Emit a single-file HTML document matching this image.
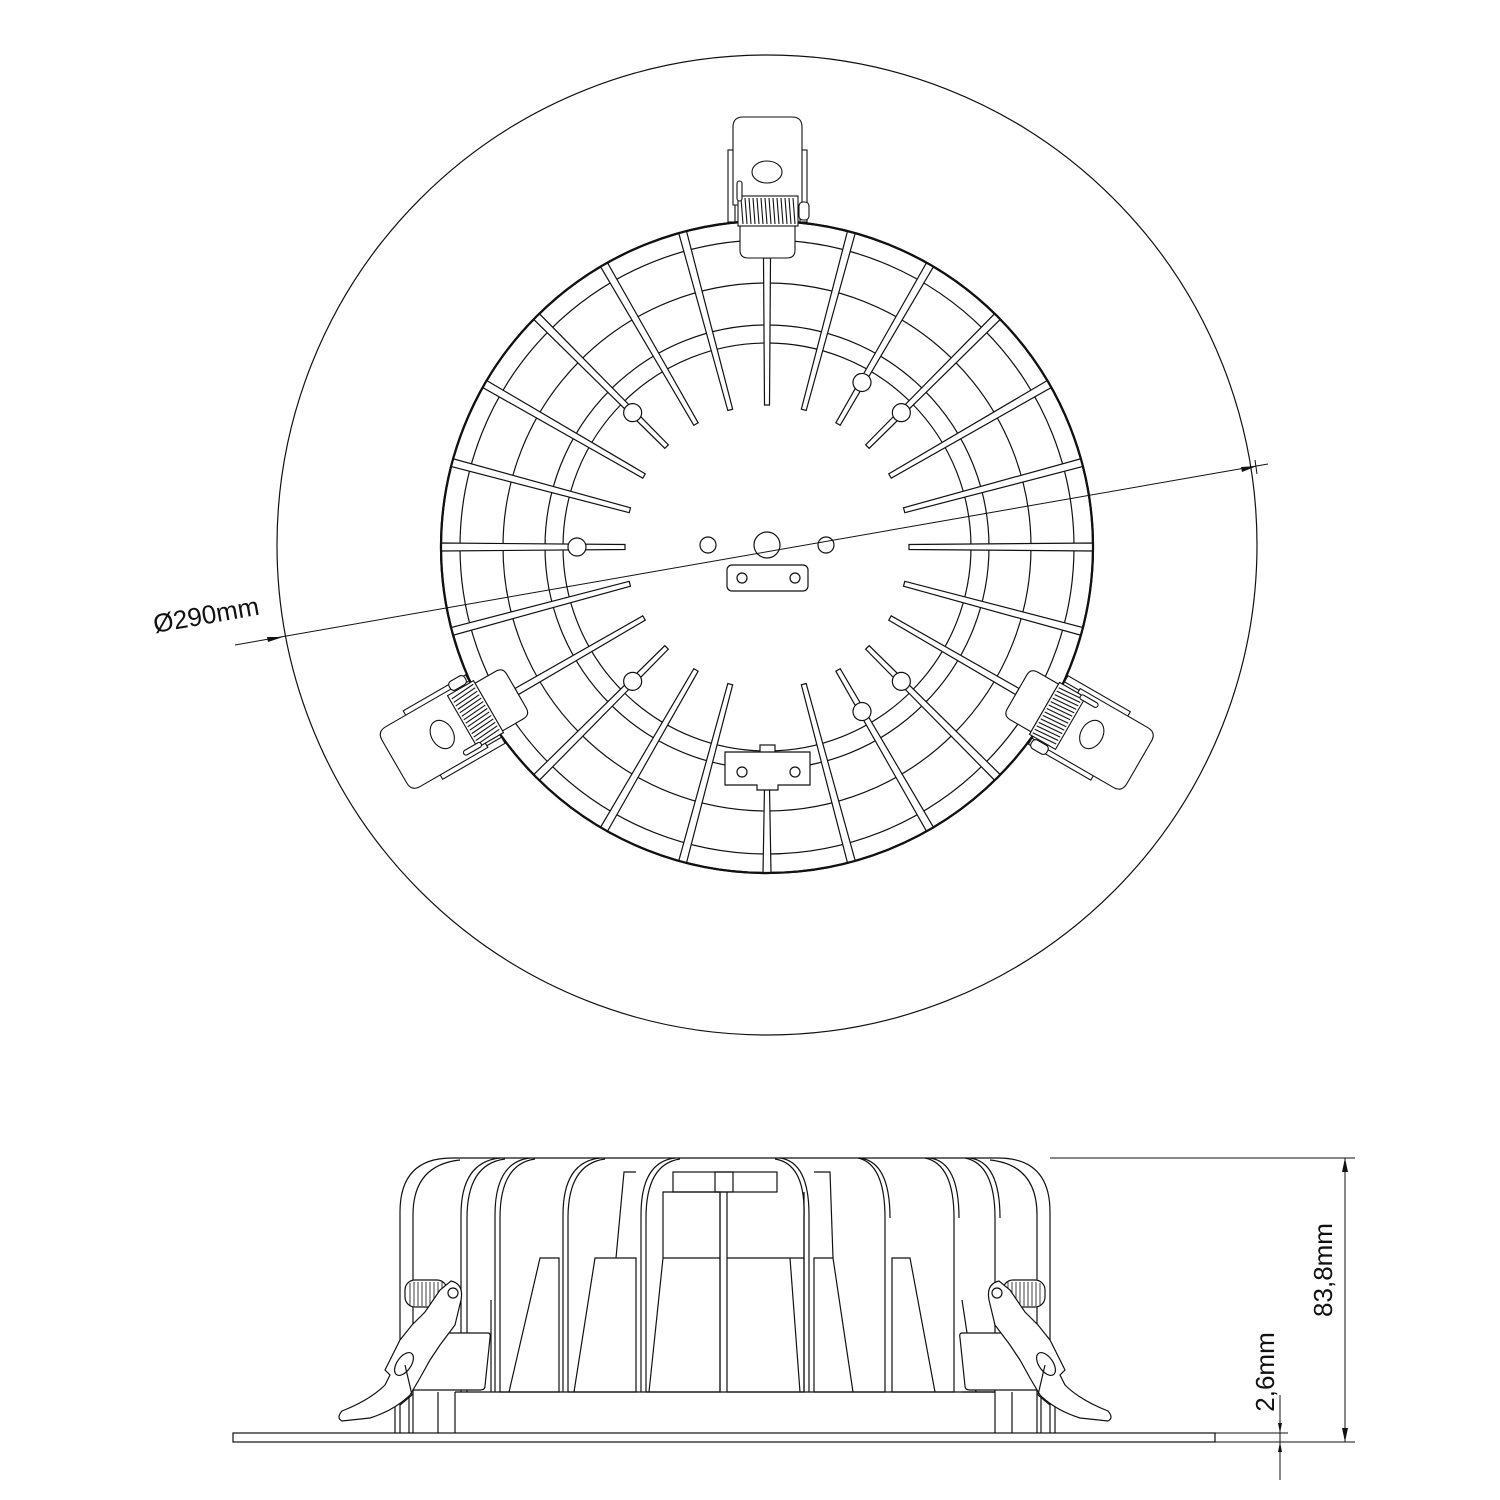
<!DOCTYPE html>
<html><head><meta charset="utf-8"><style>
html,body{margin:0;padding:0;background:#fff;}
svg{display:block;}
text{font-family:"Liberation Sans",sans-serif;fill:#111;}
</style></head><body>
<svg width="1500" height="1500" viewBox="0 0 1500 1500" xmlns="http://www.w3.org/2000/svg" stroke="#111" fill="none" stroke-width="1.2">
<defs>
  <polygon id="fin" points="764.5,405 769.5,405 771,221 763,221" fill="#fff"/>
  <polygon id="finS" points="764.5,405 769.5,405 770.5,258 763.5,258" fill="#fff"/>
  <g id="finH"><use href="#fin"/><circle cx="767" cy="357" r="9" fill="#fff"/></g>
  <g id="clip" stroke-width="1.1">
    <rect x="728" y="150" width="7" height="72" fill="#fff"/>
    <rect x="800" y="150" width="7" height="72" fill="#fff"/>
    <path d="M733,205 V127 Q733,117 743,117 H792 Q802,117 802,127 V205 Z" fill="#fff"/>
    <ellipse cx="767" cy="172" rx="15" ry="11"/>
    <path d="M740,226 H795 V250 Q795,258 787,258 H748 Q740,258 740,250 Z" fill="#fff"/>
    <rect x="738" y="196" width="60" height="30" fill="#fff"/>
    <path d="M741,198 l2,26 M745,198 l2,26 M749,198 l2,26 M753,198 l2,26 M757,198 l2,26 M761,198 l2,26 M765,198 l2,26 M769,198 l2,26 M773,198 l2,26 M777,198 l2,26 M781,198 l2,26 M785,198 l2,26 M789,198 l2,26 M793,198 l2,26"/>
    <rect x="799" y="202" width="10" height="18" rx="4" fill="#fff"/>
    <rect x="737" y="181" width="5" height="20" rx="2.5" fill="#fff"/>
  </g>
</defs>

<circle cx="767" cy="545" r="490"/>

<circle cx="767" cy="547" r="326" fill="#fff" stroke-width="2.2"/>
<circle cx="767" cy="547" r="307"/>
<circle cx="767" cy="547" r="264"/>
<circle cx="767" cy="547" r="222"/>
<circle cx="767" cy="547" r="204"/>
<circle cx="767" cy="547" r="140" fill="#fff" stroke="none"/>

<use href="#finS"/>
<use href="#fin" transform="rotate(15,767,547)"/>
<use href="#finH" transform="rotate(30,767,547)"/>
<use href="#finH" transform="rotate(45,767,547)"/>
<use href="#fin" transform="rotate(60,767,547)"/>
<use href="#fin" transform="rotate(75,767,547)"/>
<use href="#fin" transform="rotate(90,767,547)"/>
<use href="#fin" transform="rotate(105,767,547)"/>
<use href="#finS" transform="rotate(120,767,547)"/>
<use href="#finH" transform="rotate(135,767,547)"/>
<use href="#finH" transform="rotate(150,767,547)"/>
<use href="#fin" transform="rotate(165,767,547)"/>
<polygon points="764.5,787 769.5,787 771,873 763,873" fill="#fff"/>
<use href="#fin" transform="rotate(195,767,547)"/>
<use href="#fin" transform="rotate(210,767,547)"/>
<use href="#finH" transform="rotate(225,767,547)"/>
<use href="#finS" transform="rotate(240,767,547)"/>
<use href="#fin" transform="rotate(255,767,547)"/>
<use href="#finH" transform="rotate(270,767,547)"/>
<use href="#fin" transform="rotate(285,767,547)"/>
<use href="#fin" transform="rotate(300,767,547)"/>
<use href="#finH" transform="rotate(315,767,547)"/>
<use href="#fin" transform="rotate(330,767,547)"/>
<use href="#fin" transform="rotate(345,767,547)"/>
<circle cx="767" cy="547" r="326" stroke-width="2.2"/>

<rect x="760" y="745" width="15" height="8" fill="#fff"/>
<path d="M725,752 H810 V785 H778 V790 H757 V785 H725 Z" fill="#fff"/>
<circle cx="742" cy="772" r="5"/>
<circle cx="795" cy="772" r="5"/>

<circle cx="767" cy="545" r="13"/>
<circle cx="708" cy="545" r="8"/>
<circle cx="826" cy="545" r="8"/>
<rect x="727" y="565" width="81" height="26" rx="5"/>
<circle cx="742" cy="578" r="5"/>
<circle cx="795" cy="578" r="5"/>

<use href="#clip"/>
<use href="#clip" transform="rotate(120,767,547)"/>
<use href="#clip" transform="rotate(240,767,547)"/>

<line x1="235" y1="645" x2="1268" y2="464" stroke-width="1"/>
<line x1="1255" y1="460" x2="1257" y2="474" stroke-width="1"/>
<polygon points="283,637 268,642 267,637" fill="#111" stroke="none"/>
<polygon points="1257,466 1242,472 1241,467" fill="#111" stroke="none"/>
<text x="0" y="0" font-size="26" stroke="none" transform="translate(155,633) rotate(-10)">Ø290mm</text>

<!-- SIDE VIEW -->
<rect x="233" y="1433" width="982" height="9" fill="#fff"/>
<path d="M400,1433 V1212 Q400,1158 452,1158 H998 Q1050,1158 1050,1212 V1433" />
<path d="M413,1433 V1215 Q413,1165 460,1160"/>
<path d="M1037,1433 V1215 Q1037,1165 990,1160"/>
<path d="M461,1392 V1215 Q461,1162 500,1158"/><path d="M467,1392 V1218 Q467,1164 505,1159"/>
<line x1="491" y1="1392" x2="491" y2="1300"/>
<path d="M495,1392 V1215 Q495,1162 530,1158"/><path d="M500,1392 V1218 Q500,1164 535,1159"/>
<path d="M500,1392 H559 V1258 H540 L509,1392"/>
<path d="M563,1392 V1215 Q563,1162 600,1158"/><path d="M568,1392 V1218 Q568,1164 605,1159"/>
<path d="M568,1392 H636 V1258 H595 L574,1392 M616,1258 L624,1172 H636"/>
<path d="M641,1392 V1215 Q641,1162 675,1158"/><path d="M646,1392 V1218 Q646,1164 680,1159"/>
<path d="M646,1392 H720 V1192 H663 V1258 L649,1392 M663,1258 H720"/>
<rect x="673" y="1172" width="104" height="20"/>
<rect x="715" y="1172" width="18" height="20"/>
<line x1="720" y1="1192" x2="720" y2="1392"/><line x1="727" y1="1192" x2="727" y2="1392"/>
<path d="M727,1392 H804 V1192 M727,1258 H804 M790,1258 L800,1392"/>
<path d="M809,1392 V1215 Q809,1162 780,1158"/><path d="M804,1392 V1218 Q806,1164 775,1159"/>
<path d="M814,1392 H885 V1218 Q885,1164 858,1158 M814,1392 V1258 H833 L830,1172 H814 M833,1258 L853,1392"/>
<path d="M890,1218 Q890,1162 860,1158"/>
<path d="M892,1392 H954 V1218 Q954,1164 925,1158 M892,1392 V1258 H910 L935,1392"/>
<path d="M959,1218 Q959,1162 930,1158"/>
<path d="M962,1392 H995 V1218 Q995,1164 965,1158 M962,1300 L976,1392"/>
<path d="M1000,1218 Q1000,1162 970,1158"/>
<path d="M395,1433 V1395 M409,1433 V1395 M438,1433 V1392 M455,1433 V1392 M1055,1433 V1395 M1041,1433 V1395 M1012,1433 V1392 M995,1433 V1392"/>
<line x1="455" y1="1392" x2="995" y2="1392"/>

<g id="sclip" fill="#fff">
  <path d="M409,1333 H488 Q491,1333 490,1338 L485,1386 Q485,1390 480,1390 H409 Z"/>
  <rect x="405" y="1280" width="42" height="27" rx="10"/>
  <path d="M410,1283 v22 M414,1282 v24 M418,1282 v24 M422,1282 v24 M426,1282 v24 M430,1282 v24 M434,1282 v24 M438,1282 v24 M442,1282 v24" stroke-width="0.8"/>
  <path d="M451,1281 Q464,1284 461,1300 L455,1325 L440,1345 L430,1360 L420,1378 L410,1395 Q395,1410 370,1418 L342,1421 Q336,1418 342,1411 Q370,1400 385,1385 L390,1375 L385,1370 L400,1340 L412,1325 L425,1312 L440,1290 Z"/>
  <circle cx="453" cy="1293" r="5"/>
  <ellipse cx="404" cy="1364" rx="7" ry="13" transform="rotate(35,404,1364)"/>
  <path d="M412,1395 L400,1405 M405,1365 L412,1395"/>
</g>
<use href="#sclip" transform="translate(1450,0) scale(-1,1)"/>

<line x1="1050" y1="1158" x2="1355" y2="1158" stroke-width="1"/>
<line x1="980" y1="1442" x2="1355" y2="1442" stroke-width="1"/>
<line x1="1215" y1="1433" x2="1288" y2="1433" stroke-width="1"/>
<line x1="1345" y1="1158" x2="1345" y2="1442" stroke-width="1"/>
<polygon points="1345,1158 1342,1172 1348,1172" fill="#111" stroke="none"/>
<polygon points="1345,1442 1342,1428 1348,1428" fill="#111" stroke="none"/>
<line x1="1280" y1="1395" x2="1280" y2="1480" stroke-width="1"/>
<polygon points="1280,1433 1278,1423 1282,1423" fill="#111" stroke="none"/>
<polygon points="1280,1442 1278,1452 1282,1452" fill="#111" stroke="none"/>
<text font-size="26" stroke="none" text-anchor="middle" transform="translate(1332,1270) rotate(-90)">83,8mm</text>
<text font-size="26" stroke="none" text-anchor="middle" transform="translate(1274,1372) rotate(-90)">2,6mm</text>
</svg>
</body></html>
